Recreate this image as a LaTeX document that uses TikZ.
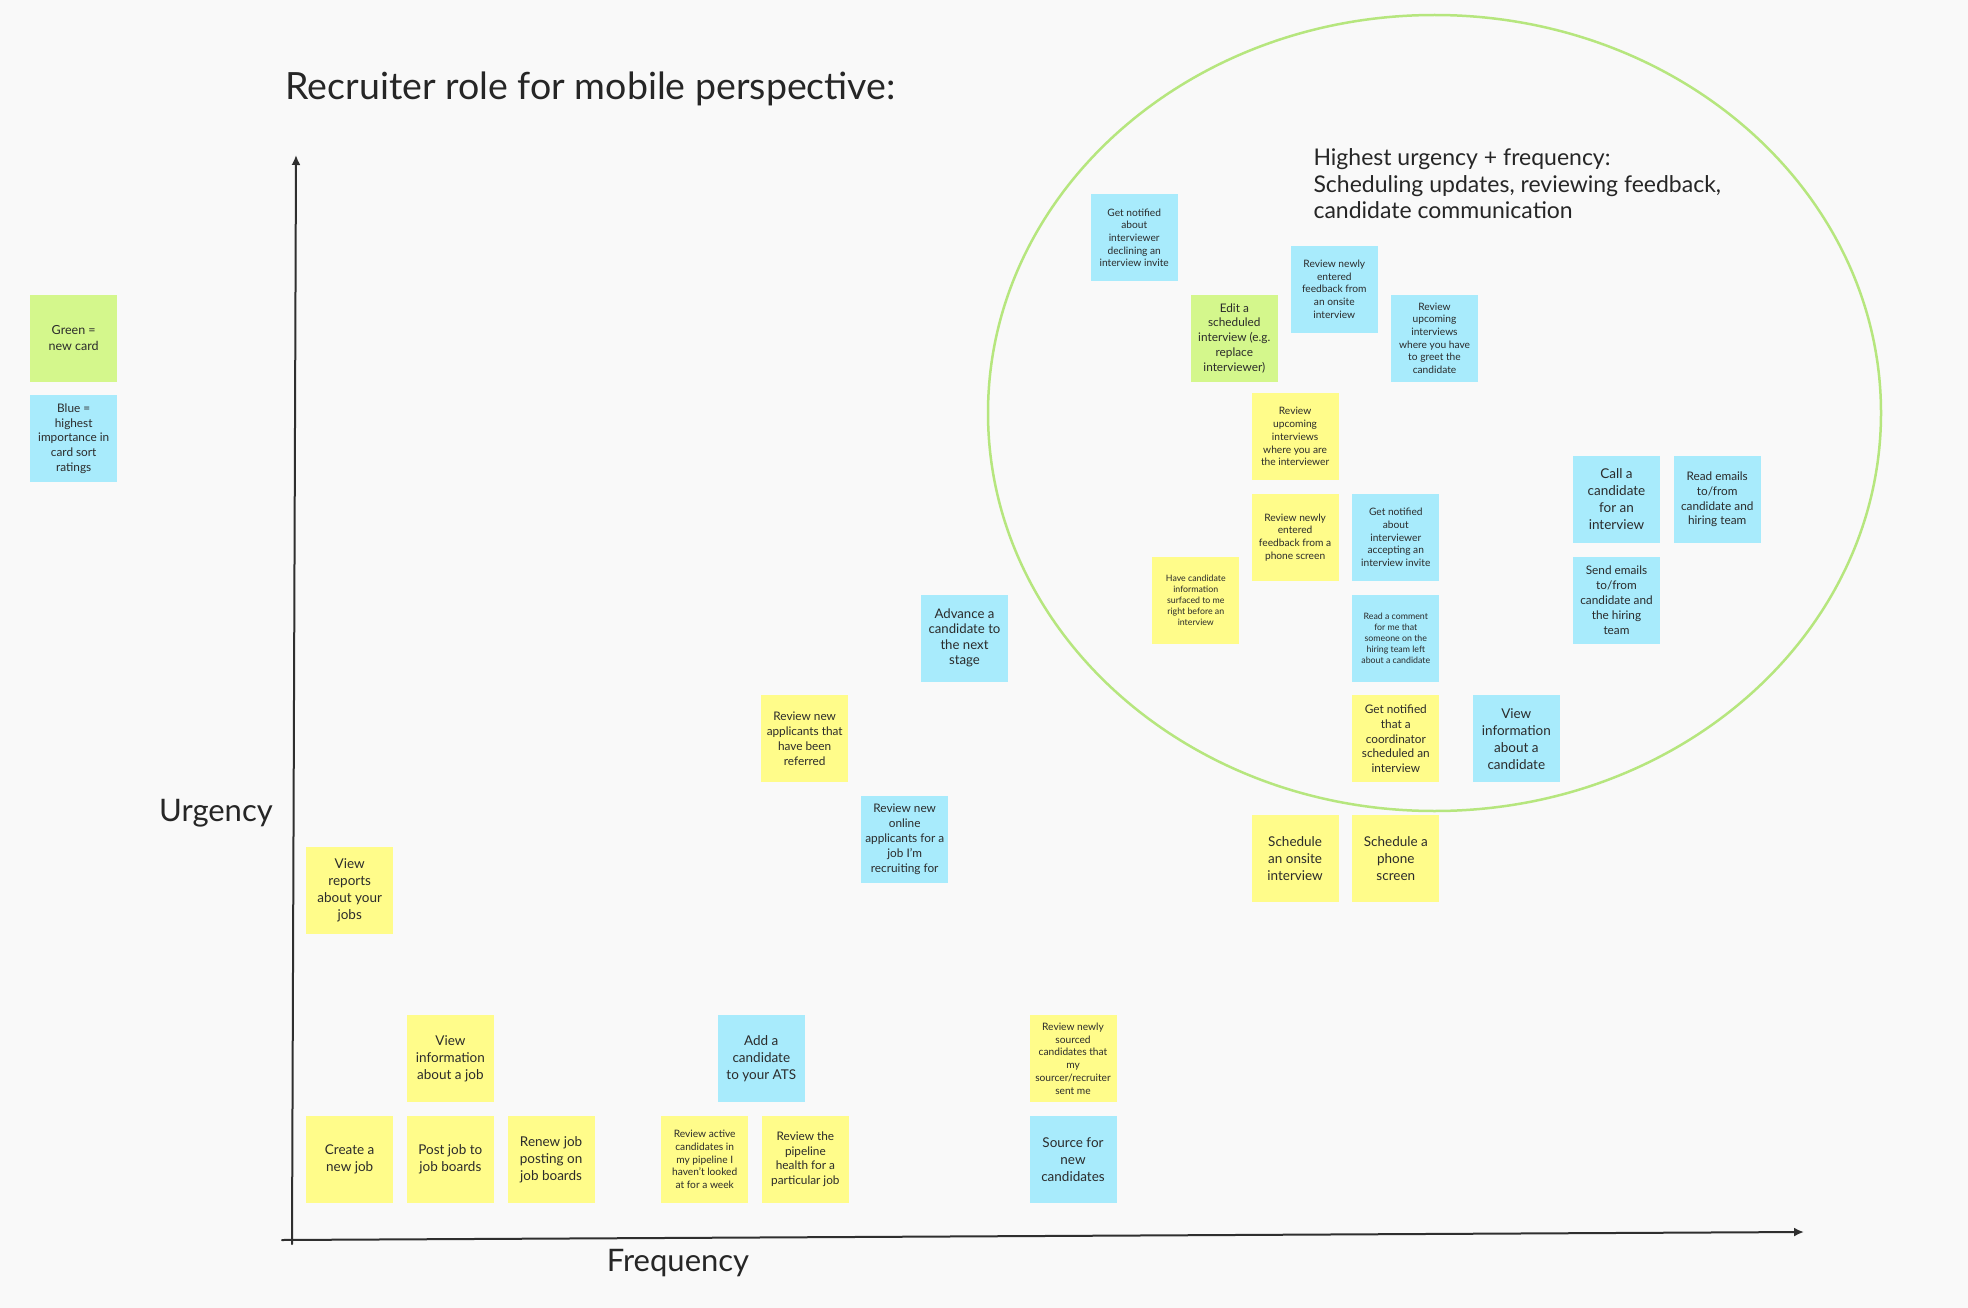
\documentclass[tikz,border=0pt]{standalone}
\usepackage{fontspec}
\setmainfont{Lato}
\usetikzlibrary{arrows.meta,positioning}
\definecolor{boardbg}{HTML}{F9F9F9}
\definecolor{noteyellow}{HTML}{FFFC8A}
\definecolor{noteblue}{HTML}{A8EBFC}
\definecolor{notegreen}{HTML}{D4F78C}
\definecolor{notetext}{HTML}{2B2B2B}
\definecolor{ringgreen}{HTML}{B6E67E}
\definecolor{axisline}{HTML}{2F2F2F}
\tikzset{
every picture/.style={line cap=round,line join=round},
sticky note/.style={
  minimum width=87pt,
  minimum height=87pt,
  inner sep=1pt,
  align=center,
  text=notetext
},
yellow note/.style={sticky note,fill=noteyellow},
blue note/.style={sticky note,fill=noteblue},
green note/.style={sticky note,fill=notegreen},
large text/.style={font=\fontsize{13.5}{17}\selectfont},
mid text/.style={font=\fontsize{11.8}{14.8}\selectfont},
small text/.style={font=\fontsize{10.2}{12.7}\selectfont},
tiny text/.style={font=\fontsize{8.8}{10.9}\selectfont},
axis arrow/.style={
  draw=axisline,
  line width=2pt,
  -{Latex[length=10pt,width=9pt]}
},
axis label/.style={font=\fontsize{31}{36}\selectfont, text=black!85},
board title/.style={font=\fontsize{37.5}{44}\selectfont, text=black!85},
ring note/.style={font=\fontsize{23}{26.5}\selectfont, text=black!85, align=left},
focus ring/.style={draw=ringgreen, line width=2.5pt}
}
\begin{document}
\begin{tikzpicture}[
x=1pt,y=-1pt,
node distance=13.3pt and 13.3pt,
]
\fill[boardbg] (0,0) rectangle (1968,1308);
\useasboundingbox (0,0) rectangle (1968,1308);
\draw[focus ring] (1434.5,413) ellipse [x radius=446.5pt, y radius=398pt];
\node[board title,anchor=west] (title) at (282,89) {Recruiter role for mobile perspective:};
\node[ring note,anchor=west] (focus) at (1310,184) {Highest urgency + frequency:\\Scheduling updates, reviewing feedback,\\candidate communication};
\node[axis label] (urgency) at (216,813) {Urgency};
\node[axis label] (frequency) at (678,1263) {Frequency};
\coordinate (ybottom) at (292,1244);
\coordinate (ytop) at (296,155);
\coordinate (xleft) at (282,1240);
\coordinate (xright) at (1804,1232);
\draw[axis arrow] (ybottom) -- (ytop);
\draw[axis arrow] (xleft) -- (xright);
\node[green note,font=\fontsize{12.5}{16}\selectfont] (legendgreen) at (73.7,338) {Green =\\new card};
\node[blue note,mid text,below=of legendgreen] (legendblue) {Blue =\\highest\\importance in\\card sort\\ratings};
\node[yellow note,large text] (reports) at (349.7,890.3) {View\\reports\\about your\\jobs};
\node[yellow note,large text] (createjob) at (349.7,1159.3) {Create a\\new job};
\node[yellow note,large text,right=of createjob] (postjob) {Post job to\\job boards};
\node[yellow note,large text,right=of postjob] (renewjob) {Renew job\\posting on\\job boards};
\node[yellow note,large text,above=of postjob] (jobinfo) {View\\information\\about a job};
\node[yellow note,small text] (activecands) at (704.7,1159.3) {Review active\\candidates in\\my pipeline I\\haven't looked\\at for a week};
\node[yellow note,mid text,right=of activecands] (pipeline) {Review the\\pipeline\\health for a\\particular job};
\node[blue note,large text] (addcand) at (761.3,1058.8) {Add a\\candidate\\to your ATS};
\node[blue note,large text] (source) at (1073,1159.3) {Source for\\new\\candidates};
\node[yellow note,small text,above=of source] (sourced) {Review newly\\sourced\\candidates that\\my\\sourcer/recruiter\\sent me};
\node[yellow note,mid text] (referred) at (804.7,738.8) {Review new\\applicants that\\have been\\referred};
\node[blue note,mid text] (online) at (904.7,839.2) {Review new\\online\\applicants for a\\job I'm\\recruiting for};
\node[blue note,font=\fontsize{13.2}{15.5}\selectfont] (advance) at (964.5,638) {Advance a\\candidate to\\the next\\stage};
\node[yellow note,large text] (phone) at (1395.8,858.5) {Schedule a\\phone\\screen};
\node[yellow note,large text,left=of phone] (onsite) {Schedule\\an onsite\\interview};
\node[yellow note,mid text] (coordinator) at (1395.8,738.8) {Get notified\\that a\\coordinator\\scheduled an\\interview};
\node[blue note,large text] (candinfo) at (1516.3,738.8) {View\\information\\about a\\candidate};
\node[blue note,tiny text,above=of coordinator] (comment) {Read a comment\\for me that\\someone on the\\hiring team left\\about a candidate};
\node[blue note,small text,above=of comment] (accepted) {Get notified\\about\\interviewer\\accepting an\\interview invite};
\node[yellow note,small text,left=of accepted] (phonefb) {Review newly\\entered\\feedback from a\\phone screen};
\node[yellow note,small text,above=of phonefb] (upcoming) {Review\\upcoming\\interviews\\where you are\\the interviewer};
\node[yellow note,tiny text] (surfaced) at (1195.8,600) {Have candidate\\information\\surfaced to me\\right before an\\interview};
\node[blue note,small text] (declined) at (1134.2,237.7) {Get notified\\about\\interviewer\\declining an\\interview invite};
\node[green note,mid text] (editint) at (1234.3,338.2) {Edit a\\scheduled\\interview (e.g.\\replace\\interviewer)};
\node[blue note,small text] (onsitefb) at (1334.3,289.2) {Review newly\\entered\\feedback from\\an onsite\\interview};
\node[blue note,small text] (greet) at (1434.5,338.2) {Review\\upcoming\\interviews\\where you have\\to greet the\\candidate};
\node[blue note,large text] (callcand) at (1616.5,499.5) {Call a\\candidate\\for an\\interview};
\node[blue note,mid text,right=of callcand] (reademails) {Read emails\\to/from\\candidate and\\hiring team};
\node[blue note,mid text,below=of callcand] (sendemails) {Send emails\\to/from\\candidate and\\the hiring\\team};
\end{tikzpicture}
\end{document}
